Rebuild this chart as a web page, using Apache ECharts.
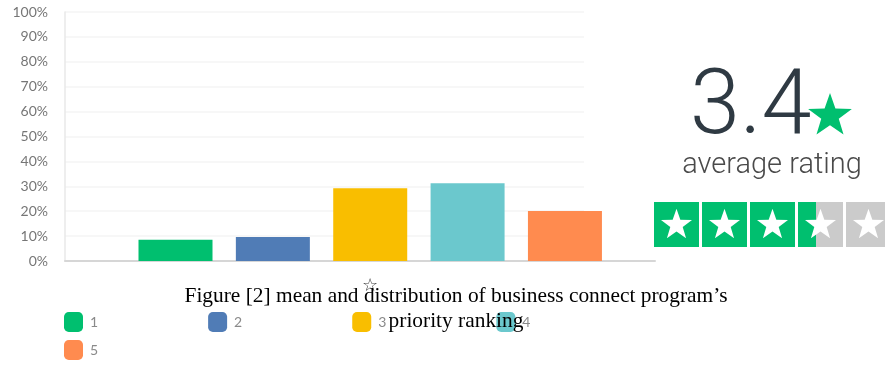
<!DOCTYPE html>
<html>
<head>
<meta charset="utf-8">
<script src="https://cdn.jsdelivr.net/npm/echarts@6/dist/echarts.min.js"></script>
<style>
  html, body { margin: 0; padding: 0; background: #ffffff; }
  #chart { width: 885px; height: 366px; }
</style>
</head>
<body>
<div id="chart"></div>
<script>
// Priority ranking buckets and the share of respondents in each (percent)
const categories = ['1', '2', '3', '4', '5'];
const shares = [8.5, 9.6, 29.2, 31.2, 20.1];
const barColors = ['#00bf6f', '#507cb6', '#f9be00', '#6bc8cd', '#ff8b4f'];
const yTicks = [0, 10, 20, 30, 40, 50, 60, 70, 80, 90, 100];

// Summary rating shown on the right
const averageRating = 3.4;
const ratingMax = 5;
const ratingCaption = 'average rating';

const captionLines = [
  'Figure [2] mean and distribution of business connect program\u2019s',
  'priority ranking'
];

// Ten-point star outline centred on (cx, cy)
function starPoints(cx, cy, R) {
  const r = R * 0.4;
  const pts = [];
  for (let k = 0; k < 10; k++) {
    const rad = (k % 2 === 0) ? R : r;
    const a = -Math.PI / 2 + k * Math.PI / 5;
    pts.push([cx + rad * Math.cos(a), cy + rad * Math.sin(a)]);
  }
  return pts;
}

const chart = echarts.init(document.getElementById('chart'), null, { renderer: 'canvas' });

const series = categories.map((name, i) => ({
  type: 'bar',
  name: name,
  data: [[i + 1, shares[i]]],
  barWidth: 74,
  barGap: '-100%',
  itemStyle: { color: barColors[i] },
  emphasis: { disabled: true },
  z: 2
}));

// Rating boxes: filled share of each box comes from averageRating
const boxLeft = 654, boxTop = 202, boxSize = 45, boxPitch = 48;
const ratingGraphics = [
  // blank panel behind the rating, hides the gridlines there
  { type: 'rect', z: 1, shape: { x: 584, y: 0, width: 301, height: 258 }, style: { fill: '#ffffff' } },
  {
    type: 'text', z: 10,
    style: {
      text: averageRating.toFixed(1), x: 690, y: 110,
      textVerticalAlign: 'middle', textAlign: 'left',
      font: '300 90px Roboto, Lato, sans-serif', fill: '#2f3a43'
    }
  },
  { type: 'polygon', z: 10, shape: { points: starPoints(830, 116, 23) }, style: { fill: '#00bf6f' } },
  {
    type: 'text', z: 10,
    style: {
      text: ratingCaption, x: 772, y: 166,
      textVerticalAlign: 'middle', textAlign: 'center',
      font: '300 29px Roboto, Lato, sans-serif', fill: '#4a4a4a'
    }
  }
];
for (let k = 0; k < ratingMax; k++) {
  const x = boxLeft + k * boxPitch;
  const fillFrac = Math.max(0, Math.min(1, averageRating - k));
  ratingGraphics.push({ type: 'rect', z: 10, shape: { x: x, y: boxTop, width: boxSize, height: boxSize }, style: { fill: '#cbcbcb' } });
  if (fillFrac > 0) {
    ratingGraphics.push({ type: 'rect', z: 10, shape: { x: x, y: boxTop, width: boxSize * fillFrac, height: boxSize }, style: { fill: '#00bf6f' } });
  }
  ratingGraphics.push({ type: 'polygon', z: 11, shape: { points: starPoints(x + boxSize / 2, boxTop + 23, 16.3) }, style: { fill: '#ffffff' } });
}

const captionFont = '21.4px "Liberation Serif", "Times New Roman", serif';
const captionGraphics = [
  {
    type: 'text', z: 20,
    style: { text: '\u2606', x: 370, y: 286, textAlign: 'center', textVerticalAlign: 'middle', font: 'bold 18px "DejaVu Sans"', fill: '#3a3a3a' }
  },
  {
    type: 'text', z: 20,
    style: { text: captionLines[0], x: 456, y: 296, textAlign: 'center', textVerticalAlign: 'middle', font: captionFont, fill: '#000000' }
  },
  {
    type: 'text', z: 20,
    style: { text: captionLines[1], x: 456, y: 321, textAlign: 'center', textVerticalAlign: 'middle', font: captionFont, fill: '#000000' }
  }
];

const legendCommon = {
  orient: 'horizontal',
  icon: 'roundRect',
  itemWidth: 19,
  itemHeight: 20,
  itemGap: 110,
  padding: 0,
  selectedMode: false,
  textStyle: { color: '#8a8a8a', fontSize: 14, fontFamily: 'Lato, sans-serif', width: 12, padding: [0, 0, 0, 2] }
};

chart.setOption({
  animation: false,
  backgroundColor: '#ffffff',
  grid: { left: 65, right: 230, top: 12, bottom: 105, outerBoundsMode: 'none', containLabel: false },
  xAxis: {
    type: 'value',
    min: -0.135,
    max: 5.925,
    axisLine: { show: true, onZero: false, lineStyle: { color: '#d6d6d6', width: 2 } },
    axisTick: { show: false },
    axisLabel: { show: false },
    splitLine: { show: false }
  },
  yAxis: {
    type: 'value',
    min: yTicks[0],
    max: yTicks[yTicks.length - 1],
    interval: 10,
    axisLine: { show: true, onZero: false, lineStyle: { color: '#e8e8e8', width: 1.5 } },
    axisTick: { show: false },
    axisLabel: {
      formatter: '{value}%', color: '#767676', fontSize: 14,
      fontFamily: 'Lato, sans-serif', margin: 17
    },
    splitLine: { show: true, lineStyle: { color: '#f4f4f4', width: 1.5 } }
  },
  legend: [
    Object.assign({}, legendCommon, { data: categories.slice(0, 4), left: 64, top: 312 }),
    Object.assign({}, legendCommon, { data: categories.slice(4), left: 64, top: 340 })
  ],
  graphic: ratingGraphics.concat(captionGraphics),
  series: series
});
</script>
</body>
</html>
